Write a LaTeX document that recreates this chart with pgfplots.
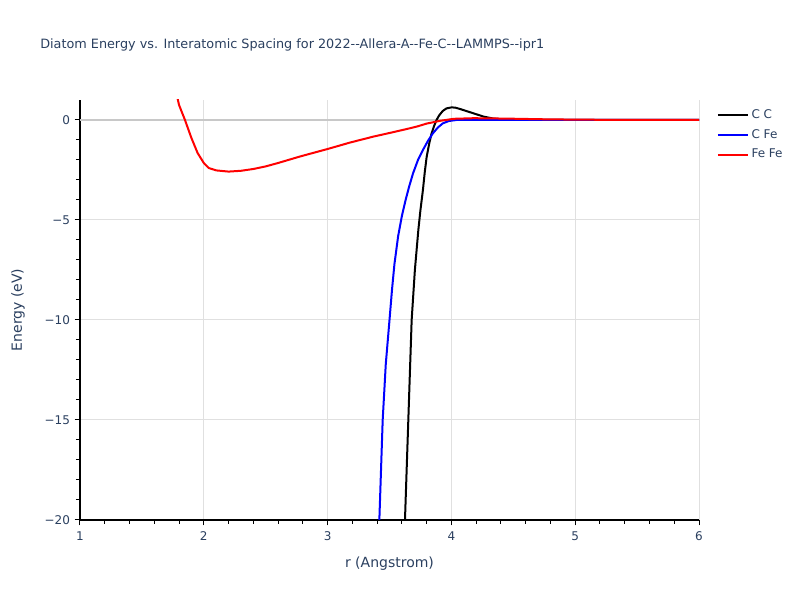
\documentclass[border=0pt]{standalone}
\usepackage{pgfplots}
\pgfplotsset{compat=1.18}
\usepackage{fontspec}
\setmainfont{DejaVu Sans}
\definecolor{txt}{HTML}{2A3F5F}
\definecolor{gridc}{HTML}{E0E0E0}
\definecolor{zeroc}{HTML}{C8C8C8}
\newcommand\dd{-\kern0pt-}
\begin{document}
\begin{tikzpicture}
\path[use as bounding box] (0,0) rectangle (600pt,450pt);
\begin{axis}[
  at={(60pt,60pt)}, anchor=south west,
  scale only axis, width=464.25pt, height=315pt,
  xmin=1, xmax=6, ymin=-20, ymax=1,
  xtick={1,2,3,4,5,6}, ytick={-20,-15,-10,-5,0},
  yticklabels={−20,−15,−10,−5,0},
  minor x tick num=4, minor y tick num=4,
  axis x line*=bottom, axis y line*=left,
  axis line style={black, line width=0.8pt, -},
  tick align=outside,
  major tick length=4pt, minor tick length=3pt,
  every tick/.style={black, line width=0.75pt},
  grid=major, major grid style={gridc, line width=0.75pt},
  /pgf/number format/assume math mode=true,
  ticklabel style={font=\fontsize{9}{11}\selectfont, text=txt},
  xticklabel style={yshift=-1pt},
  xlabel={r (Angstrom)}, ylabel={Energy (eV)},
  label style={font=\fontsize{10.5}{12}\selectfont, text=txt},
  xlabel style={at={(axis description cs:0.5,-0.105)}, anchor=center},
  ylabel style={at={(axis description cs:-0.100,0.5)}, anchor=center},
  title={Diatom Energy vs. Interatomic Spacing for 2022\dd Allera-A\dd Fe-C\dd LAMMPS\dd ipr1},
  title style={at={(axis description cs:-0.0646,1.131)}, anchor=west, inner sep=0pt, yshift=-6pt, font=\fontsize{9.6}{11}\selectfont, text=txt},
  legend style={at={(axis description cs:1.022,0.99)}, anchor=north west, draw=none, fill=none,
    font=\fontsize{9}{11}\selectfont, text=txt, row sep=2.6pt},
  legend cell align=left,
  legend image code/.code={\draw[#1] (0pt,0pt) -- (22.5pt,0pt);},
  clip=true,
]
\addplot[zeroc, line width=0.9pt, forget plot] coordinates {(1,0) (6,0)};
\addplot[black, line width=1.5pt] coordinates {
(3.618,-21) (3.625,-20) (3.652,-15) (3.679,-10) (3.705,-7.5) (3.733,-5.5) (3.75,-4.5)
(3.77,-3.5) (3.785,-2.6) (3.80,-1.85) (3.82,-1.2) (3.84,-0.67) (3.86,-0.3) (3.88,0)
(3.90,0.22) (3.93,0.45) (3.96,0.58) (4.00,0.63) (4.03,0.62)
(4.07,0.55) (4.12,0.45) (4.18,0.33) (4.26,0.17) (4.34,0.07) (4.45,0.02) (4.6,0) (6,0)};
\addlegendentry{C C}
\addplot[blue, line width=1.5pt] coordinates {
(3.41,-21) (3.418,-20) (3.445,-15) (3.47,-12.2) (3.50,-10) (3.52,-8.5) (3.54,-7.2)
(3.57,-5.8) (3.60,-4.8) (3.63,-4.0) (3.66,-3.3) (3.69,-2.67) (3.73,-2.0) (3.77,-1.5)
(3.81,-1.05) (3.85,-0.67) (3.89,-0.38) (3.93,-0.17) (3.98,-0.05) (4.04,0) (6,0)};
\addlegendentry{C Fe}
\addplot[red, line width=1.5pt] coordinates {
(1.78,1.3) (1.80,0.75) (1.848,0) (1.90,-0.9) (1.95,-1.65) (2.00,-2.15) (2.04,-2.4)
(2.10,-2.52) (2.20,-2.58) (2.30,-2.54) (2.40,-2.45) (2.50,-2.32) (2.60,-2.15)
(2.78,-1.82) (3.00,-1.45) (3.18,-1.13) (3.37,-0.83) (3.50,-0.65) (3.64,-0.45)
(3.72,-0.33) (3.80,-0.18) (3.91,-0.04) (4.02,0.06) (4.18,0.09) (4.44,0.07)
(4.8,0.03) (5.2,0.01) (6,0)};
\addlegendentry{Fe Fe}
\end{axis}
\end{tikzpicture}
\end{document}
